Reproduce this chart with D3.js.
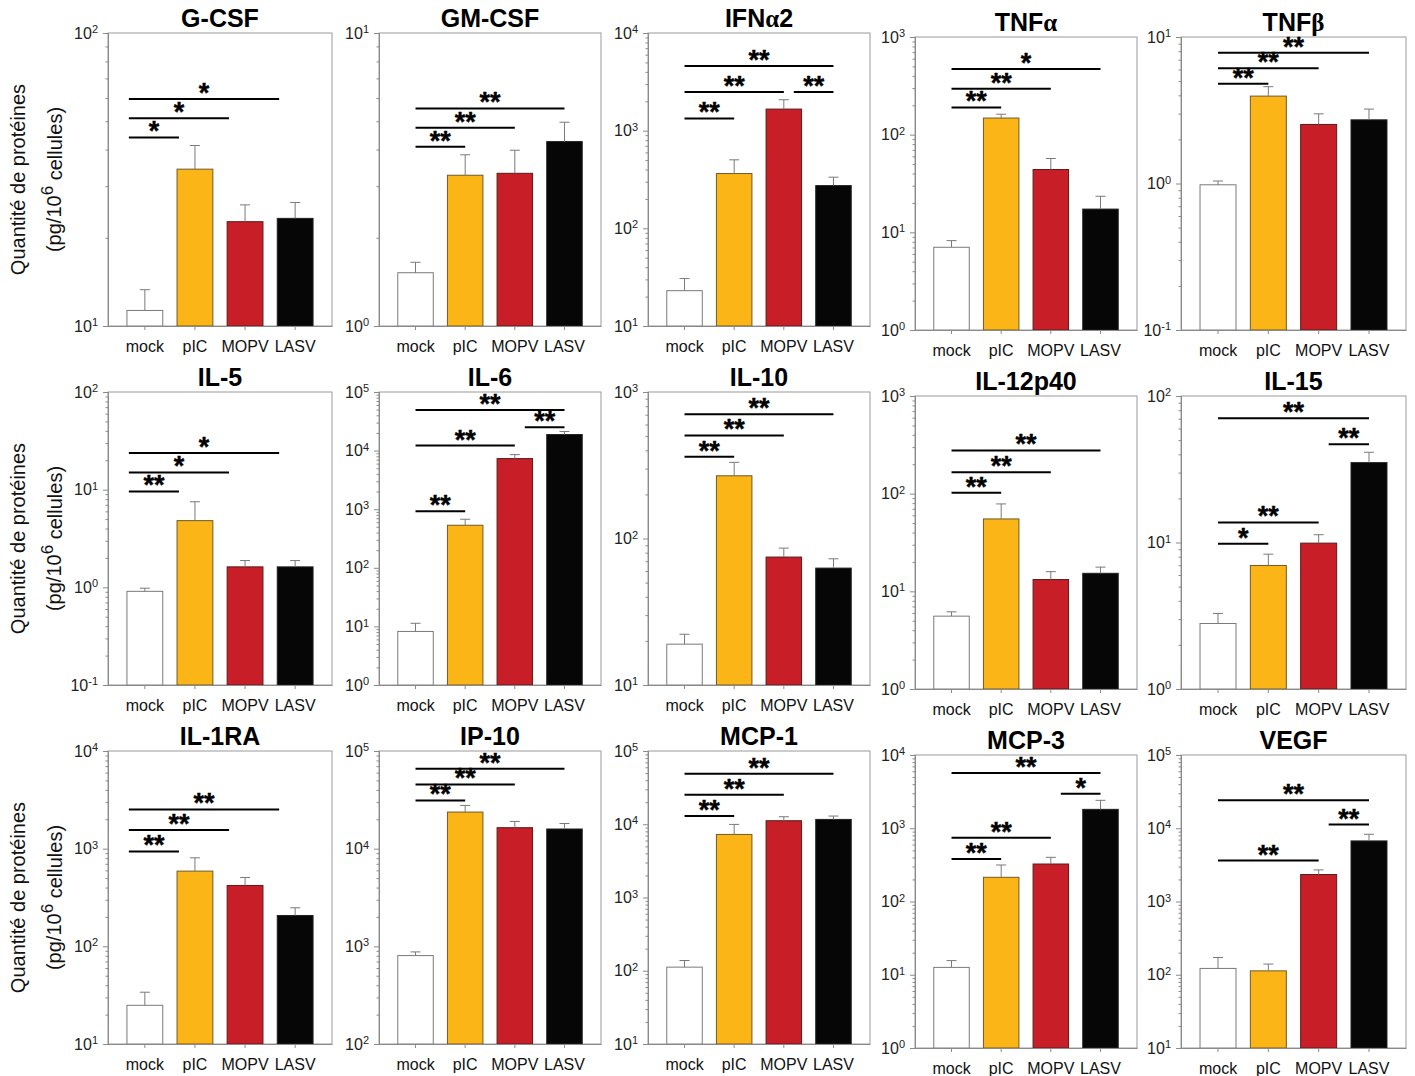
<!DOCTYPE html>
<html><head><meta charset="utf-8">
<script src="https://cdn.jsdelivr.net/npm/d3@7"></script>
<style>
body{margin:0;background:#fff;}
text{font-family:"Liberation Sans",Arial,sans-serif;}
</style></head>
<body><svg id="chart" width="1415" height="1076"></svg>
<script>
// ---------- DATA ----------
const categories = ["mock", "pIC", "MOPV", "LASV"];
const cytokines = ["G-CSF","GM-CSF","IFNα2","TNFα","TNFβ","IL-5","IL-6","IL-10","IL-12p40","IL-15","IL-1RA","IP-10","MCP-1","MCP-3","VEGF"];
const yDomains = [[10,100],[1,10],[10,1e4],[1,1e3],[0.1,10],[0.1,100],[1,1e5],[10,1e3],[1,1e3],[1,100],[10,1e4],[100,1e5],[10,1e5],[1,1e4],[10,1e5]];

const mockMean = [11.3, 1.52, 23.0, 7.03, 0.98, 0.91, 8.2, 19.0, 5.57, 2.80, 24.9, 804, 112, 12.6, 122];
const picMean  = [34.3, 3.27, 364, 148, 3.95, 4.82, 532, 268, 55.1, 6.97, 589, 23700, 7260, 214, 113];
const mopvMean = [22.7, 3.32, 1663, 44.0, 2.53, 1.62, 7300, 74.7, 13.2, 9.9, 420, 16400, 11170, 325, 2333];
const lasvMean = [23.3, 4.26, 274, 17.3, 2.72, 1.62, 18800, 62.8, 15.3, 35.1, 207, 15900, 11640, 1812, 6714];

const mockSE = [2.0, 0.13, 7.6, 1.2, 0.06, 0.07, 3.1, 3.2, 0.6, 0.48, 9.0, 73, 26, 3.0, 50];
const picSE  = [7.0, 0.57, 139, 14, 0.63, 2.7, 142, 63, 23.4, 1.35, 217, 4000, 2690, 101, 27];
const mopvSE = [3.2, 0.66, 410, 13, 0.46, 0.26, 1240, 11.3, 2.7, 1.4, 87, 2600, 1500, 76, 367];
const lasvSE = [3.1, 0.70, 60, 6.1, 0.50, 0.26, 2400, 9.9, 2.4, 6.2, 41, 2200, 1300, 593, 1566];

// significance brackets: [from index, to index, label, level (data units)]
const significance = [
  [[0,1,"*",44],[0,2,"*",51.2],[0,3,"*",59.5]],
  [[0,1,"**",4.09],[0,2,"**",4.75],[0,3,"**",5.53]],
  [[0,1,"**",1334],[0,2,"**",2483],[2,3,"**",2483],[0,3,"**",4590]],
  [[0,1,"**",190],[0,2,"**",295],[0,3,"*",470]],
  [[0,1,"**",4.80],[0,2,"**",6.11],[0,3,"**",7.82]],
  [[0,1,"**",9.6],[0,2,"*",15.0],[0,3,"*",23.8]],
  [[0,1,"**",924],[0,2,"**",12190],[2,3,"**",25100],[0,3,"**",49100]],
  [[0,1,"**",362],[0,2,"**",505],[0,3,"**",706]],
  [[0,1,"**",102],[0,2,"**",166],[0,3,"**",277]],
  [[0,1,"*",9.8],[0,2,"**",13.7],[2,3,"**",46.8],[0,3,"**",70.4]],
  [[0,1,"**",936],[0,2,"**",1550],[0,3,"**",2520]],
  [[0,1,"**",31200],[0,2,"**",45500],[0,3,"**",65900]],
  [[0,1,"**",12940],[0,2,"**",25300],[0,3,"**",49000]],
  [[0,1,"**",380],[0,2,"**",743],[2,3,"*",2965],[0,3,"**",5680]],
  [[0,2,"**",3620],[2,3,"**",11220],[0,3,"**",24100]]
];

const yLabelLine1 = "Quantité de protéines";

// ---------- STYLE / LAYOUT ----------
const barFill = ["#ffffff", "#fbb516", "#c81e28", "#060606"];
const barStroke = ["#7a7a7a", "#6e5a2a", "#5a1a1a", "#222222"];
const colLeft  = [108, 379, 648, 915, 1181];
const colRight = [332, 601, 870, 1137, 1406];
const colShiftY = [0, 0, 0, 4, 4];
const rowTop = [33, 392, 751];
const plotH = 293;
const sigOffsetCol = [-16, 0, 0, 0, 0];

const means = [mockMean, picMean, mopvMean, lasvMean];
const ses = [mockSE, picSE, mopvSE, lasvSE];

const svg = d3.select("#chart");

function addPow(sel, d) {
  const e = Math.round(Math.log10(d));
  sel.text(null);
  sel.append("tspan").text("10");
  sel.append("tspan").attr("dy", "-0.5em").attr("font-size", "11px").text(String(e));
}

cytokines.forEach((name, i) => {
  const row = Math.floor(i / 5), col = i % 5;
  const L = colLeft[col], R = colRight[col];
  const T = rowTop[row] + colShiftY[col], B = T + plotH;
  const [lo, hi] = yDomains[i];
  const y = d3.scaleLog().domain([lo, hi]).range([B, T]);
  const x = d3.scaleBand().domain(categories).range([L, R]).paddingInner(0.285).paddingOuter(0.378);
  const g = svg.append("g");

  // frame
  g.append("rect").attr("x", L).attr("y", T).attr("width", R - L).attr("height", B - T)
    .attr("fill", "none").attr("stroke", "#9a9a9a").attr("stroke-width", 1);

  // bars
  const rows = categories.map((c, k) => ({c, k, v: means[k][i], se: ses[k][i]}));
  g.selectAll("rect.bar").data(rows).join("rect").attr("class", "bar")
    .attr("x", d => x(d.c)).attr("width", x.bandwidth())
    .attr("y", d => y(d.v)).attr("height", d => B - y(d.v))
    .attr("fill", d => barFill[d.k]).attr("stroke", d => barStroke[d.k]).attr("stroke-width", 1);

  // error bars (upper only)
  const eg = g.selectAll("g.err").data(rows).join("g").attr("class", "err")
    .attr("stroke", "#7a7a7a").attr("stroke-width", 1);
  eg.append("line").attr("x1", d => x(d.c) + x.bandwidth() / 2).attr("x2", d => x(d.c) + x.bandwidth() / 2)
    .attr("y1", d => y(d.v)).attr("y2", d => y(d.v + d.se));
  eg.append("line").attr("x1", d => x(d.c) + x.bandwidth() / 2 - 5).attr("x2", d => x(d.c) + x.bandwidth() / 2 + 5)
    .attr("y1", d => y(d.v + d.se)).attr("y2", d => y(d.v + d.se));

  // y axis: majors + minors
  const majors = [];
  for (let e = Math.round(Math.log10(lo)); e <= Math.round(Math.log10(hi)); e++) majors.push(Math.pow(10, e));
  const minors = [];
  for (let e = Math.round(Math.log10(lo)); e < Math.round(Math.log10(hi)); e++)
    for (let m = 2; m <= 9; m++) minors.push(m * Math.pow(10, e));
  const gMin = g.append("g").attr("transform", `translate(${L},0)`)
    .call(d3.axisLeft(y).tickValues(minors).tickSize(2.5).tickFormat(""));
  const gMaj = g.append("g").attr("transform", `translate(${L},0)`)
    .call(d3.axisLeft(y).tickValues(majors).tickSize(5).tickPadding(5));
  [gMin, gMaj].forEach(a => {
    a.selectAll("path,line").attr("stroke", "#8a8a8a");
  });
  gMaj.selectAll(".tick text").attr("font-size", "16px").attr("fill", "#222")
    .attr("font-family", "'Liberation Sans', Arial, sans-serif")
    .each(function (d) { addPow(d3.select(this), d); });

  // x axis
  const gx = g.append("g").attr("transform", `translate(0,${B})`)
    .call(d3.axisBottom(x).tickSize(4).tickPadding(11).tickSizeOuter(0));
  gx.select(".domain").attr("stroke", "#8a8a8a");
  gx.selectAll(".tick line").attr("stroke", "#8a8a8a");
  gx.selectAll(".tick text").attr("font-size", "16px").attr("fill", "#111")
    .attr("font-family", "'Liberation Sans', Arial, sans-serif");

  // title
  const t = g.append("text").attr("x", (L + R) / 2).attr("y", T - 6)
    .attr("text-anchor", "middle").attr("font-size", "25px").attr("font-weight", "bold").attr("fill", "#000");
  let buf = "";
  const flush = () => { if (buf) { t.append("tspan").text(buf); buf = ""; } };
  for (const ch of name) {
    if (/[α-ω]/.test(ch)) {
      flush();
      t.append("tspan").attr("font-family", "'Liberation Serif', 'Times New Roman', serif").attr("font-size", "25px").text(ch);
    } else buf += ch;
  }
  flush();

  // significance
  const center = c => x(categories[c]) + x.bandwidth() / 2;
  significance[i].forEach(([a, b, lab, lev]) => {
    const x1 = center(a) + (a > 0 ? 10 : 0) + sigOffsetCol[col];
    const x2 = center(b) + sigOffsetCol[col];
    const yy = y(lev);
    g.append("line").attr("x1", x1).attr("x2", x2).attr("y1", yy).attr("y2", yy)
      .attr("stroke", "#000").attr("stroke-width", 2);
    g.append("text").attr("x", (x1 + x2) / 2).attr("y", yy + 3).attr("text-anchor", "middle")
      .attr("font-size", "27px").attr("font-weight", "bold").attr("fill", "#000")
      .attr("stroke", "#000").attr("stroke-width", 0.4).text(lab);
  });

  // y label (first column only)
  if (col === 0) {
    const cy = (T + B) / 2;
    svg.append("text").attr("transform", `translate(25,${cy}) rotate(-90)`).attr("text-anchor", "middle")
      .attr("font-size", "20px").attr("fill", "#111").text(yLabelLine1);
    const t2 = svg.append("text").attr("transform", `translate(61,${cy}) rotate(-90)`).attr("text-anchor", "middle")
      .attr("font-size", "20px").attr("fill", "#111");
    t2.append("tspan").text("(pg/10");
    t2.append("tspan").attr("dy", "-0.45em").attr("font-size", "17px").text("6");
    t2.append("tspan").attr("dy", "0.45em").text(" cellules)");
  }
});
</script></body></html>
